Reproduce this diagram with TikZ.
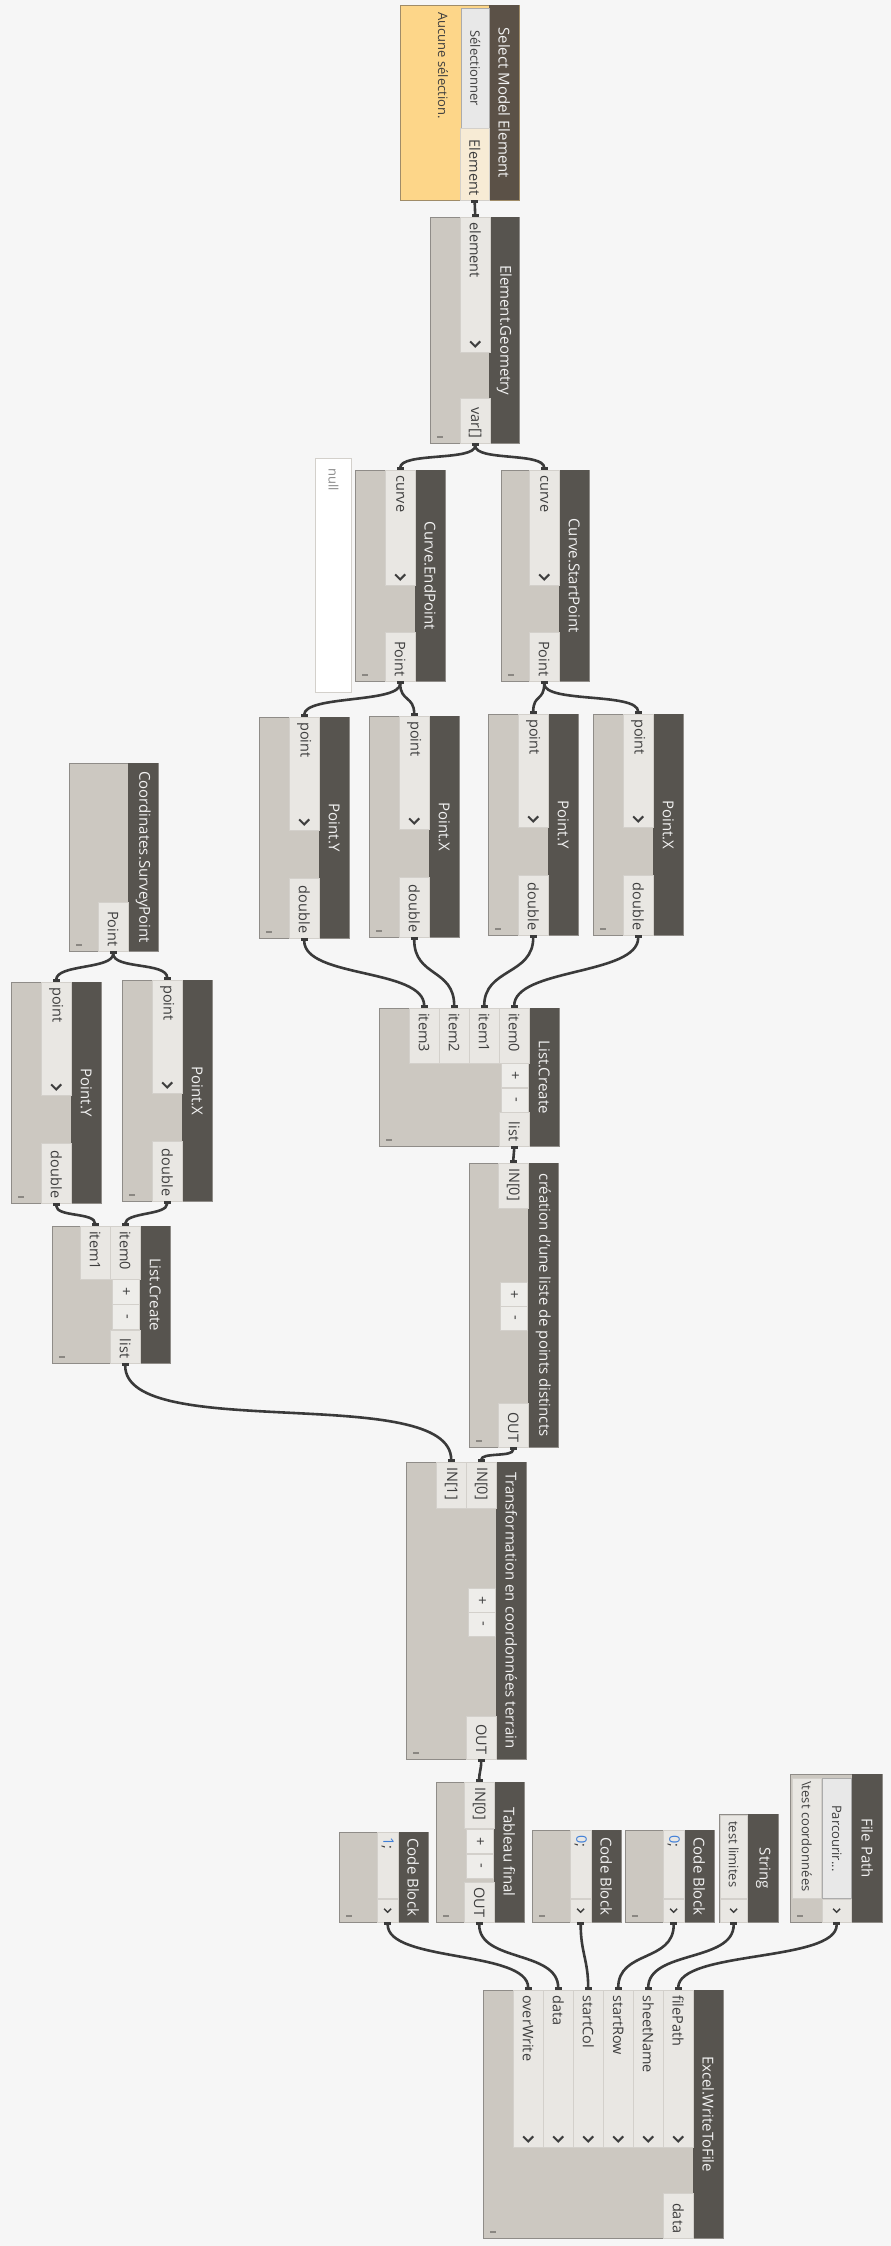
\documentclass[tikz,border=0pt]{standalone}
\usepackage{fontspec}
\setmainfont{Open Sans}
\usetikzlibrary{arrows.meta}

\definecolor{bggray}{HTML}{F6F6F6}
\definecolor{bodygray}{HTML}{CCC8C1}
\definecolor{cellgray}{HTML}{E9E7E3}
\definecolor{celledge}{HTML}{D3D0CB}
\definecolor{btngray}{HTML}{EEEDEA}
\definecolor{bargray}{HTML}{57544F}
\definecolor{edgegray}{HTML}{8F8C88}
\definecolor{wiregray}{HTML}{3A3A3A}
\definecolor{labgray}{HTML}{3E3E3E}
\definecolor{ttlwhite}{HTML}{F2F2F2}
\definecolor{togglegray}{HTML}{8A8782}
\definecolor{selorange}{HTML}{FDD689}
\definecolor{seledge}{HTML}{A08C68}
\definecolor{selbar}{HTML}{5B5147}
\definecolor{selcell}{HTML}{F7EBD5}
\definecolor{pickgray}{HTML}{E8E8E8}
\definecolor{pickedge}{HTML}{ABABAB}
\definecolor{nullgray}{HTML}{8A8A8A}
\definecolor{codeblue}{HTML}{3F7FD8}

\newcommand{\ttlfont}{\fontsize{15}{18}\selectfont}
\newcommand{\prtfont}{\fontsize{14.5}{17}\selectfont}
\newcommand{\smfont}{\fontsize{13}{15}\selectfont}

\tikzset{
  body/.style={draw=edgegray, line width=1pt, fill=bodygray, inner sep=0pt, anchor=north west},
  bar/.style={fill=bargray, inner sep=0pt, minimum width=30, anchor=north west},
  cell/.style={fill=cellgray, draw=celledge, line width=0.4pt, inner sep=0pt, anchor=north west},
  btn/.style={fill=btngray, draw=celledge, line width=0.4pt, inner sep=0pt, anchor=north west},
  pick/.style={fill=pickgray, draw=pickedge, line width=0.6pt, inner sep=0pt, anchor=north west},
  nullbox/.style={fill=white, draw=celledge, line width=1pt, inner sep=0pt, anchor=north west},
  ttl/.style={rotate=-90, text=ttlwhite, font=\ttlfont, inner sep=0pt},
  lbl/.style={rotate=-90, text=labgray, font=\prtfont, inner sep=0pt},
  chev/.style={draw=labgray, line width=2pt},
  toggle/.style={draw=togglegray, line width=1.2pt},
  wire/.style={draw=wiregray, line width=2.6pt,
    {Rectangle[length=3pt,width=7pt]}-{Rectangle[length=3pt,width=7pt]}},
}

% node box: name, x, y, width, height, title
\newcommand{\dynnode}[6]{%
  \node[body, minimum width=#4, minimum height=#5] (#1) at (#2,#3) {};
  \node[bar, minimum height=#5] (#1-bar) at ({#2+#4-30},#3) {};
  \node[ttl] at (#1-bar.center) {#6};
  \draw[toggle] ([xshift=7pt,yshift=7pt]#1.south west) -- ++(6pt,0pt);
}
% input port with chevron
\newcommand{\dynin}[6]{%
  \node[cell, minimum width=#4, minimum height=#5] (#1) at (#2,#3) {};
  \node[lbl, anchor=west] at ([yshift=-5pt]#1.north) {#6};
  \draw[chev] ([xshift=-5pt,yshift=11pt]#1.south) -- ++(5pt,-5pt) -- ++(5pt,5pt);
}
% input port, no chevron
\newcommand{\dynitem}[6]{%
  \node[cell, minimum width=#4, minimum height=#5] (#1) at (#2,#3) {};
  \node[lbl, anchor=west] at ([yshift=-5pt]#1.north) {#6};
}
% output port
\newcommand{\dynout}[7][cellgray]{%
  \node[cell, fill=#1, minimum width=#5, minimum height=#6] (#2) at (#3,#4) {};
  \node[lbl, anchor=east] at ([yshift=5pt]#2.south) {#7};
}
% small output chevron
\newcommand{\dynarrow}[5]{%
  \node[cell, minimum width=#4, minimum height=#5] (#1) at (#2,#3) {};
  \draw[labgray, line width=1.4pt] ([xshift=-3.5pt,yshift=2pt]#1.center) -- ++(3.5pt,-3.5pt) -- ++(3.5pt,3.5pt);
}
% + / - button
\newcommand{\dynbtn}[6]{%
  \node[btn, minimum width=#4, minimum height=#5] (#1) at (#2,#3) {};
  \node[lbl] at (#1.center) {#6};
}
% connector
\newcommand{\dynwire}[3][30]{\draw[wire] (#2) .. controls +(0,#1) and +(0,-#1) .. (#3);}

\begin{document}
\begin{tikzpicture}[x=1pt, y={(0pt,-1pt)}]
\path[use as bounding box, fill=bggray] (0,0) rectangle (891,2246);

% Select Model Element
\node[body, fill=selorange, draw=seledge, minimum width=119, minimum height=195] (sel) at (400,5) {};
\node[bar, fill=selbar, minimum height=195] (sel-bar) at (489,5) {};
\node[ttl] at (sel-bar.center) {Select Model Element};
\node[pick, minimum width=28, minimum height=120] (sel-btn) at (461,8) {};
\node[lbl, font=\smfont] at (sel-btn.center) {Sélectionner};
\dynout[selcell]{sel-out}{460}{128}{29}{72}{Element}
\node[lbl, anchor=west, font=\smfont] (sel-msg) at (443,12) {Aucune sélection.};

% Element.Geometry
\dynnode{geo}{430}{217}{89}{226}{Element.Geometry}
\dynin{geo-in}{460}{217}{30}{135}{element}
\dynout{geo-out}{460}{398}{30}{45}{var[]}

% preview bubble
\node[nullbox, minimum width=36, minimum height=234] (nul) at (315,458) {};
\node[lbl, anchor=west, text=nullgray, font=\smfont] at ([yshift=-10pt]nul.north) {null};

% Curve points
\dynnode{endpt}{355}{470}{90}{211}{Curve.EndPoint}
\dynin{endpt-in}{385}{470}{30}{115}{curve}
\dynout{endpt-out}{385}{632}{30}{49}{Point}
\dynnode{startpt}{501}{470}{88}{211}{Curve.StartPoint}
\dynin{startpt-in}{529}{470}{30}{115}{curve}
\dynout{startpt-out}{529}{632}{30}{49}{Point}

% Point.X / Point.Y
\foreach \n/\x/\y/\t in {py1/259/717/Y, px1/369/716/X, py2/488/714/Y, px2/593/714/X, py3/11/982/Y, px3/122/980/X}{
  \dynnode{\n}{\x}{\y}{90}{221}{Point.\t}
  \dynin{\n-in}{\x+30}{\y}{30}{113}{point}
  \dynout{\n-out}{\x+30}{\y+161}{30}{60}{double}
}

% survey point
\dynnode{csp}{69}{763}{89}{188}{Coordinates.SurveyPoint}
\dynout{csp-out}{98}{902}{30}{49}{Point}

% List.Create (curve points)
\dynnode{lc1}{379}{1008}{180}{138}{List.Create}
\foreach \i/\x in {0/499, 1/469, 2/439, 3/409}{
  \dynitem{lc1-i\i}{\x}{1008}{30}{55}{item\i}
}
\dynbtn{lc1-add}{501}{1063}{27}{24}{+}
\dynbtn{lc1-rem}{501}{1088}{27}{24}{-}
\dynout{lc1-out}{499}{1112}{30}{34}{list}

% List.Create (survey point)
\dynnode{lc2}{52}{1226}{118}{137}{List.Create}
\dynitem{lc2-i0}{110}{1226}{30}{53}{item0}
\dynitem{lc2-i1}{80}{1226}{30}{53}{item1}
\dynbtn{lc2-add}{112}{1279}{27}{25}{+}
\dynbtn{lc2-rem}{112}{1304}{27}{25}{-}
\dynout{lc2-out}{110}{1330}{30}{33}{list}

% Python scripts
\dynnode{cre}{469}{1163}{89}{284}{création d'une liste de points distincts}
\dynitem{cre-in}{498}{1163}{30}{45}{IN[0]}
\dynbtn{cre-add}{500}{1282}{27}{24}{+}
\dynbtn{cre-rem}{500}{1306}{27}{24}{-}
\dynout{cre-out}{498}{1403}{30}{44}{OUT}

\dynnode{trf}{406}{1462}{120}{297}{Transformation en coordonnées terrain}
\dynitem{trf-in0}{466}{1462}{30}{46}{IN[0]}
\dynitem{trf-in1}{436}{1462}{30}{46}{IN[1]}
\dynbtn{trf-add}{468}{1588}{27}{24}{+}
\dynbtn{trf-rem}{468}{1612}{27}{24}{-}
\dynout{trf-out}{466}{1716}{30}{43}{OUT}

\dynnode{tab}{436}{1782}{88}{140}{Tableau final}
\dynitem{tab-in}{464}{1782}{30}{46}{IN[0]}
\dynbtn{tab-add}{466}{1829}{27}{24}{+}
\dynbtn{tab-rem}{466}{1854}{27}{24}{-}
\dynout{tab-out}{464}{1882}{30}{40}{OUT}

% inputs of the writer
\foreach \n/\x/\y/\v in {cb1/339/1832/1, cb2/532/1830/0, cb3/625/1830/0}{
  \dynnode{\n}{\x}{\y}{89}{1922-\y}{Code Block}
  \dynitem{\n-code}{\x+38}{\y}{21}{1898-\y}{\textcolor{codeblue}{\v};}
  \dynarrow{\n-out}{\x+38}{1899}{21}{23}
}
\dynnode{str}{719}{1814}{59}{108}{String}
\node[cell, minimum width=27, minimum height=83] (str-text) at (720,1815) {};
\node[lbl, anchor=west, font=\smfont] at ([yshift=-6pt]str-text.north) {test limites};
\dynarrow{str-out}{720}{1899}{27}{23}

\dynnode{fp}{790}{1774}{92}{148}{File Path}
\node[pick, minimum width=29, minimum height=120] (fp-btn) at (822,1778) {};
\node[lbl, font=\smfont] at (fp-btn.center) {Parcourir...};
\node[cell, minimum width=29, minimum height=120] (fp-text) at (792,1778) {};
\node[lbl, anchor=west, font=\smfont] at ([yshift=-3pt]fp-text.north) {\textbackslash test coordonnées};
\dynarrow{fp-out}{822}{1899}{29}{23}

% Excel.WriteToFile
\dynnode{xl}{483}{1990}{240}{248}{Excel.WriteToFile}
\foreach \n/\x/\t in {fp/663/filePath, sn/633/sheetName, sr/603/startRow, sc/573/startCol, da/543/data, ow/513/overWrite}{
  \dynin{xl-\n}{\x}{1990}{30}{157}{\t}
}
\dynout{xl-out}{663}{2193}{30}{45}{data}

% connectors
\dynwire[8]{sel-out.south}{geo-in.north}
\dynwire[18]{geo-out.south}{endpt-in.north}
\dynwire[18]{geo-out.south}{startpt-in.north}
\dynwire[22]{endpt-out.south}{py1-in.north}
\dynwire[20]{endpt-out.south}{px1-in.north}
\dynwire[20]{startpt-out.south}{py2-in.north}
\dynwire[22]{startpt-out.south}{px2-in.north}
\dynwire[40]{py1-out.south}{lc1-i3.north}
\dynwire[40]{px1-out.south}{lc1-i2.north}
\dynwire[40]{py2-out.south}{lc1-i1.north}
\dynwire[40]{px2-out.south}{lc1-i0.north}
\dynwire[8]{lc1-out.south}{cre-in.north}
\dynwire[10]{cre-out.south}{trf-in0.north}
\dynwire[18]{csp-out.south}{py3-in.north}
\dynwire[18]{csp-out.south}{px3-in.north}
\dynwire[14]{py3-out.south}{lc2-i1.north}
\dynwire[14]{px3-out.south}{lc2-i0.north}
\dynwire[80]{lc2-out.south}{trf-in1.north}
\dynwire[10]{trf-out.south}{tab-in.north}
\dynwire[40]{cb1-out.south}{xl-ow.north}
\dynwire[40]{tab-out.south}{xl-da.north}
\dynwire[30]{cb2-out.south}{xl-sc.north}
\dynwire[40]{cb3-out.south}{xl-sr.north}
\dynwire[40]{str-out.south}{xl-sn.north}
\dynwire[40]{fp-out.south}{xl-fp.north}
\end{tikzpicture}
\end{document}
